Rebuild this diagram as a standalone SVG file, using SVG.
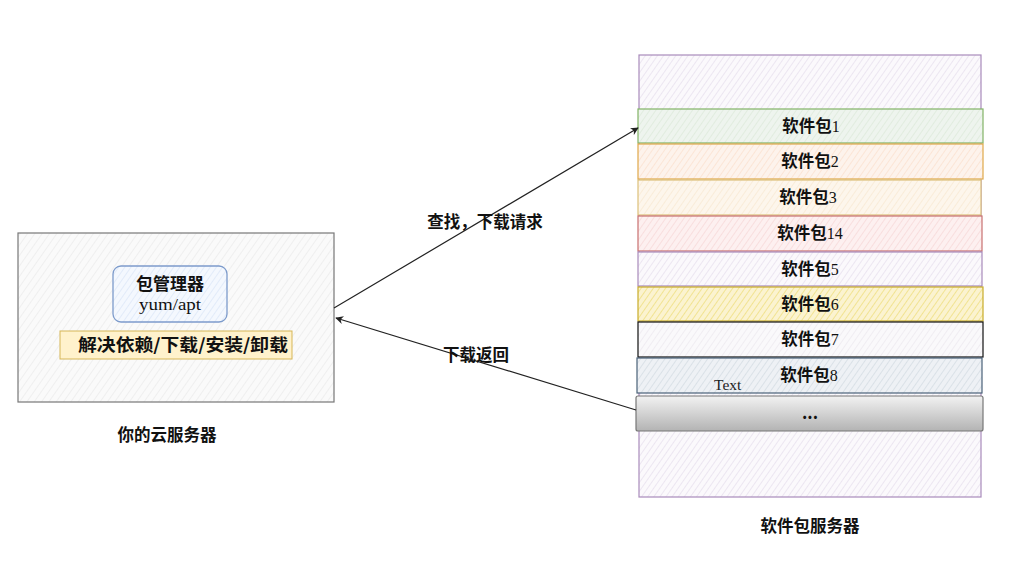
<svg xmlns="http://www.w3.org/2000/svg" width="1021" height="572" viewBox="0 0 1021 572">
<defs>
<style>
.cjk{font-family:"Noto Sans CJK SC","Noto Sans",sans-serif;font-weight:bold;font-size:16.5px;fill:#111}
.num{font-family:"Liberation Serif",serif;font-weight:normal;font-size:16px}
.lbl{text-anchor:middle}
.conn{stroke:#222;stroke-width:1.2;fill:none}
</style>
<pattern id="hGray" width="6" height="6" patternUnits="userSpaceOnUse" patternTransform="rotate(35)"><rect width="6" height="6" fill="#fafafa"/><line x1="0" y1="0" x2="0" y2="6" stroke="#e4e4e4" stroke-width="1"/></pattern>
<pattern id="hPurple" width="5" height="5" patternUnits="userSpaceOnUse" patternTransform="rotate(35)"><rect width="5" height="5" fill="#fbf9fc"/><line x1="0" y1="0" x2="0" y2="5" stroke="#e3d9ea" stroke-width="1.2"/></pattern>
<pattern id="hBlue" width="5" height="5" patternUnits="userSpaceOnUse" patternTransform="rotate(35)"><rect width="5" height="5" fill="#f4f8fe"/><line x1="0" y1="0" x2="0" y2="5" stroke="#d6e3f7" stroke-width="1.2"/></pattern>
<pattern id="hGreen" width="5" height="5" patternUnits="userSpaceOnUse" patternTransform="rotate(35)"><rect width="5" height="5" fill="#eef4ee"/><line x1="0" y1="0" x2="0" y2="5" stroke="#d8e8d6" stroke-width="1.2"/></pattern>
<pattern id="hOrange" width="5" height="5" patternUnits="userSpaceOnUse" patternTransform="rotate(35)"><rect width="5" height="5" fill="#fdf3ec"/><line x1="0" y1="0" x2="0" y2="5" stroke="#fadcc8" stroke-width="1.2"/></pattern>
<pattern id="hYellow" width="5" height="5" patternUnits="userSpaceOnUse" patternTransform="rotate(35)"><rect width="5" height="5" fill="#fdf6ec"/><line x1="0" y1="0" x2="0" y2="5" stroke="#f7e6cc" stroke-width="1.2"/></pattern>
<pattern id="hRed" width="5" height="5" patternUnits="userSpaceOnUse" patternTransform="rotate(35)"><rect width="5" height="5" fill="#fdf0f0"/><line x1="0" y1="0" x2="0" y2="5" stroke="#f6d3d3" stroke-width="1.2"/></pattern>
<pattern id="hGold" width="5" height="5" patternUnits="userSpaceOnUse" patternTransform="rotate(35)"><rect width="5" height="5" fill="#fbf3d0"/><line x1="0" y1="0" x2="0" y2="5" stroke="#eedc78" stroke-width="1.4"/></pattern>
<pattern id="hWhite" width="5" height="5" patternUnits="userSpaceOnUse" patternTransform="rotate(35)"><rect width="5" height="5" fill="#faf9fb"/><line x1="0" y1="0" x2="0" y2="5" stroke="#e6e2ea" stroke-width="1"/></pattern>
<pattern id="hSlate" width="5" height="5" patternUnits="userSpaceOnUse" patternTransform="rotate(35)"><rect width="5" height="5" fill="#eef1f5"/><line x1="0" y1="0" x2="0" y2="5" stroke="#cdd6df" stroke-width="1.2"/></pattern>
<linearGradient id="gGray" x1="0" y1="0" x2="0" y2="1"><stop offset="0" stop-color="#f2f2f2"/><stop offset="1" stop-color="#b3b3b3"/></linearGradient>
<marker id="arr" viewBox="0 0 10 10" refX="9" refY="5" markerWidth="8" markerHeight="8" orient="auto-start-reverse" markerUnits="userSpaceOnUse"><path d="M0,0 L10,5 L0,10 L3,5 Z" fill="#222"/></marker>
</defs>

<g id="cloud-server">
<rect x="18" y="233" width="316" height="169" fill="url(#hGray)" stroke="#777" stroke-width="1.2"/>
<text class="cjk lbl" x="167" y="441">你的云服务器</text>
</g>
<g id="pkg-manager">
<rect x="113" y="266" width="114" height="56" rx="8" fill="url(#hBlue)" stroke="#7d9bcb" stroke-width="1.3"/>
<text class="cjk lbl" x="170" y="290" style="font-size:17px">包管理器</text>
<text class="lbl" x="170" y="310" textLength="62" lengthAdjust="spacingAndGlyphs" style="font-family:'Liberation Serif',serif;font-size:17px;fill:#111">yum/apt</text>
</g>
<g id="pkg-functions">
<rect x="60" y="331" width="232" height="28" fill="#fff2cc" stroke="#d6b656" stroke-width="1"/>
<text class="cjk lbl" x="183" y="351" textLength="210" lengthAdjust="spacingAndGlyphs" style="font-size:17px">解决依赖/下载/安装/卸载</text>
</g>

<g id="repo-server">
<rect x="639" y="55" width="342" height="442" fill="url(#hPurple)" stroke="#a98bbb" stroke-width="1.2"/>
<text class="cjk lbl" x="810" y="532">软件包服务器</text>
</g>
<g id="pkg1"><rect x="638" y="109" width="345" height="34" fill="url(#hGreen)" stroke="#82b366" stroke-width="1.2"/><text class="cjk lbl" x="811" y="132">软件包<tspan class="num">1</tspan></text></g>
<g id="pkg2"><rect x="638" y="144" width="345" height="35" fill="url(#hOrange)" stroke="#e0a84a" stroke-width="1.2"/><text class="cjk lbl" x="810" y="167">软件包<tspan class="num">2</tspan></text></g>
<g id="pkg3"><rect x="638" y="180" width="343" height="35" fill="url(#hYellow)" stroke="#dcc07a" stroke-width="1.2"/><text class="cjk lbl" x="808" y="203">软件包<tspan class="num">3</tspan></text></g>
<g id="pkg14"><rect x="638" y="216" width="344" height="35" fill="url(#hRed)" stroke="#c87070" stroke-width="1.2"/><text class="cjk lbl" x="810" y="239">软件包<tspan class="num">14</tspan></text></g>
<g id="pkg5"><rect x="638" y="252" width="344" height="34" fill="url(#hPurple)" stroke="#a98bbb" stroke-width="1.2"/><text class="cjk lbl" x="810" y="275">软件包<tspan class="num">5</tspan></text></g>
<g id="pkg6"><rect x="638" y="287" width="345" height="34" fill="url(#hGold)" stroke="#c9ac2a" stroke-width="1.2"/><text class="cjk lbl" x="810" y="310">软件包<tspan class="num">6</tspan></text></g>
<g id="pkg7"><rect x="638" y="322" width="345" height="35" fill="url(#hWhite)" stroke="#111" stroke-width="1.2"/><text class="cjk lbl" x="810" y="345">软件包<tspan class="num">7</tspan></text></g>
<g id="pkg8"><rect x="637" y="358" width="345" height="35" fill="url(#hSlate)" stroke="#4a6278" stroke-width="1.2"/><text class="cjk lbl" x="809" y="381">软件包<tspan class="num">8</tspan></text><text x="714" y="390" style="font-family:'Liberation Serif',serif;font-size:15.5px;fill:#222">Text</text></g>
<g id="pkg-more"><rect x="636" y="396" width="347" height="35" rx="2" fill="url(#gGray)" stroke="#777" stroke-width="1.2"/><text class="cjk lbl" x="810" y="419">...</text></g>

<g id="connectors">
<line class="conn" x1="334" y1="308" x2="638" y2="128" marker-end="url(#arr)"/>
<line class="conn" x1="636" y1="410" x2="336" y2="318" marker-end="url(#arr)"/>
<text class="cjk lbl" x="485" y="228">查找，下载请求</text>
<text class="cjk lbl" x="476" y="361">下载返回</text>
</g>
</svg>
